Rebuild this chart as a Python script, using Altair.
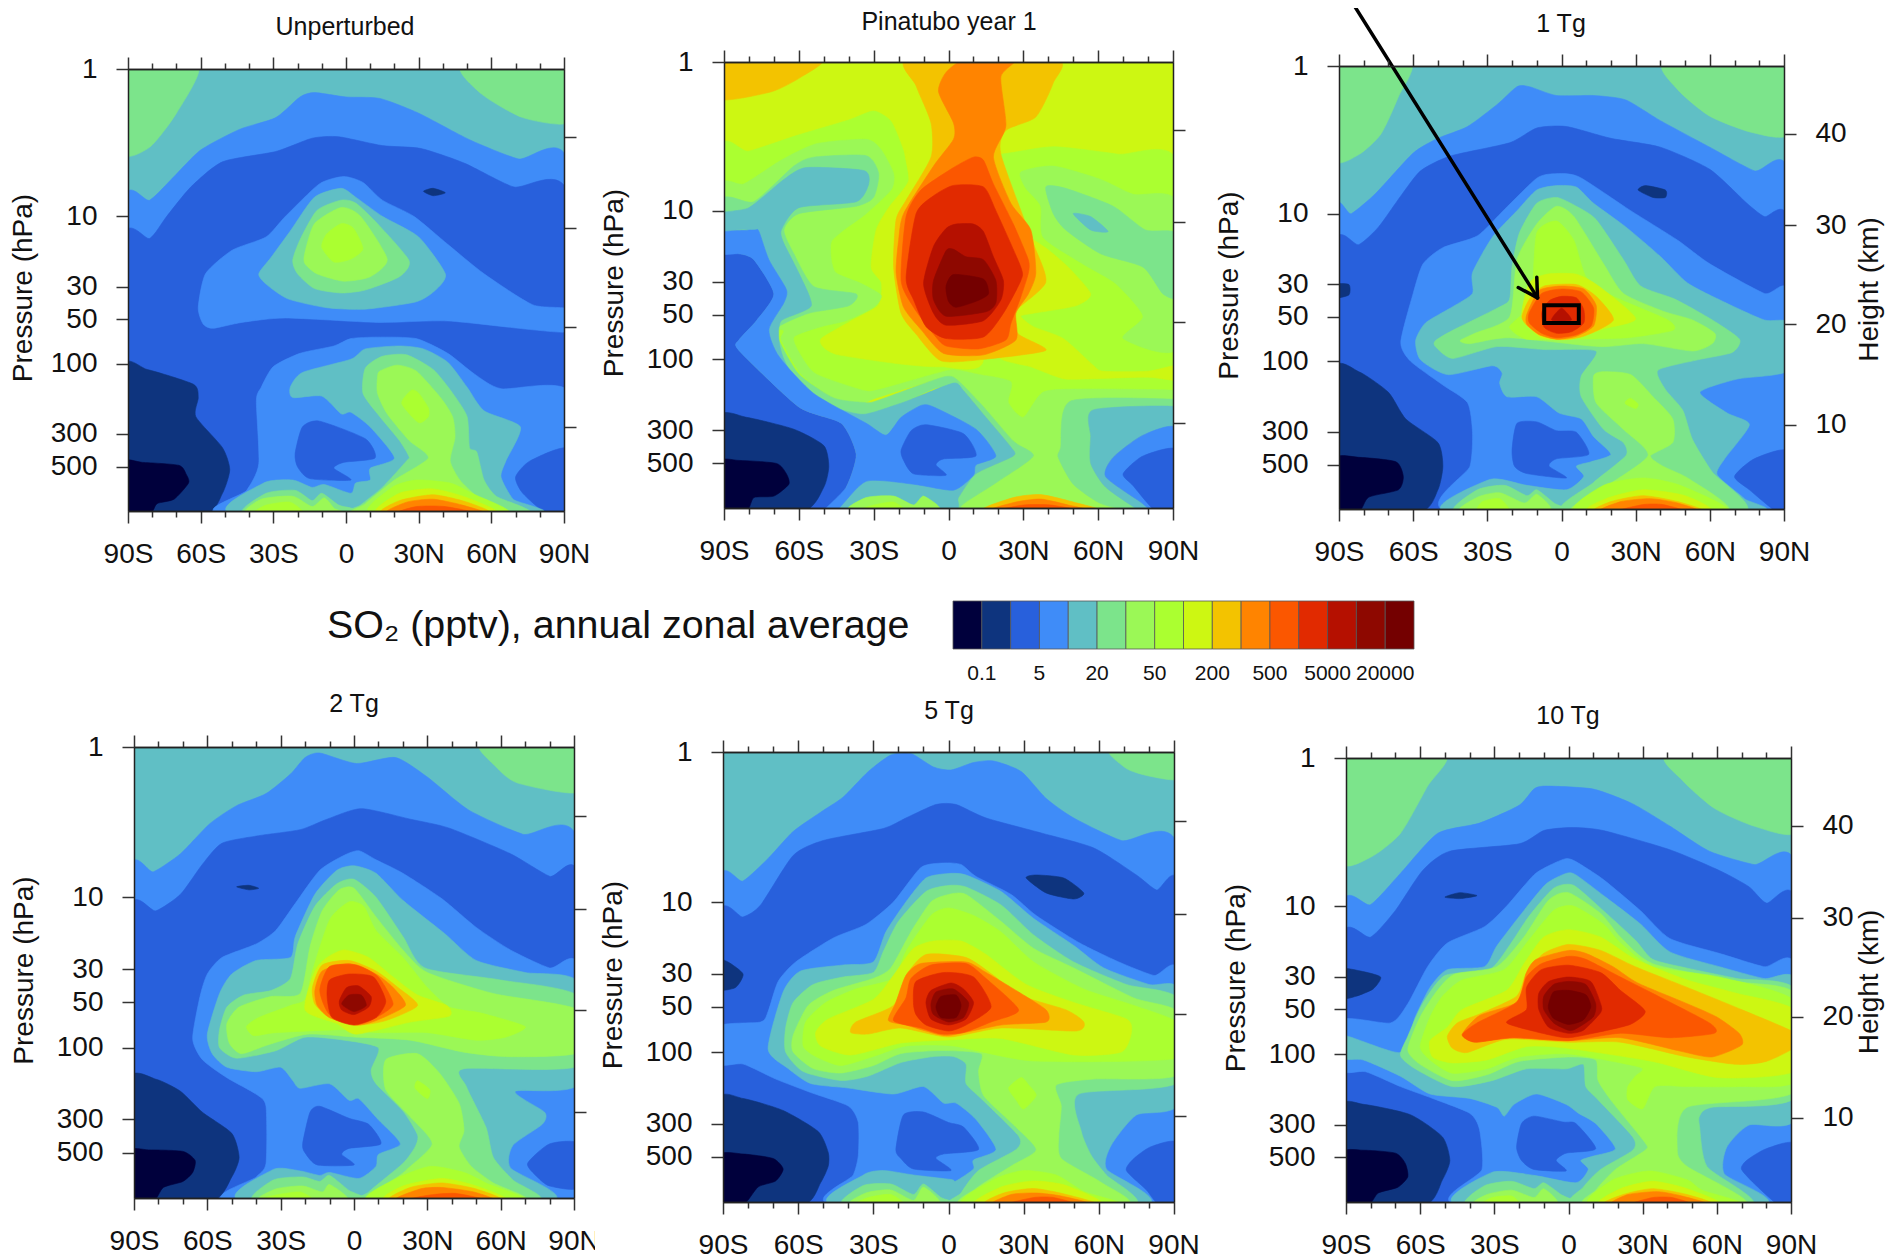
import altair as alt
import pandas as pd

W, H = 1877, 1250
COLORS = ["#00003c", "#0e347e", "#2860dc", "#3f8cf8", "#60bfc5", "#7ce48b", "#9bf856", "#abff30",
          "#cdf712", "#f3c300", "#ff8400", "#fb5700", "#e12a00", "#b51000", "#8e0800", "#740000"]
LEVEL_TICKS = [1, 3, 5, 7, 9, 11, 13, 15]
LEVEL_LABELS = ["0.1", "5", "20", "50", "200", "500", "5000", "20000"]
LAT_MAJOR = [-90, -60, -30, 0, 30, 60, 90]
LAT_MINOR = [-80, -70, -50, -40, -20, -10, 10, 20, 40, 50, 70, 80]
P_TICKS = [1, 10, 30, 50, 100, 300, 500]
HEIGHT_HPA = [2.88, 12.0, 56.2, 269]

# contour regions: (colour level, [lat, 100*log10(hPa), lat, 100*log10(hPa), ...])
UNPERTURBED = [
 (4,[-92,-2,92,-2,92,302,-92,302]),
 (5,[-92,-2,-61,-2,-70,30,-81,53,-92,57]),
 (5,[48,-2,56,17,73,33,92,36,92,-2]),
 (3,[-92,93,-81,89,-71,73,-60,55,-44,41,-29,33,-19,19,-13,16,0,19,14,20,30,30,51,48,71,61,92,66,92,302,-92,302]),
 (2,[-92,117,-81,115,-74,100,-64,80,-51,63,-29,56,-14,47,-3,46,15,52,31,54,49,64,69,80,92,87,92,302,-92,302]),
 (3,[-61,162,-58,139,-47,123,-33,114,-25,100,-11,78,-1,73,7,77,15,89,28,100,42,119,57,139,77,160,92,163,92,178,77,177,42,171,13,172,-25,169,-43,172,-55,176,-59,173]),
 (4,[-36,139,-31,128,-23,110,-13,87,-2,81,4,87,15,100,30,114,41,139,37,150,29,158,8,163,-8,162,-24,156,-33,146]),
 (5,[-22,130,-19,116,-12,96,-2,89,4,91,13,105,26,130,22,141,8,150,-2,152,-13,149,-20,139]),
 (6,[-17,125,-13,105,-2,94,6,100,17,129,10,141,-1,144,-12,139,-17,132]),
 (7,[-10,121,-8,112,-2,105,3,108,7,122,2,129,-5,131]),
 (1,[-92,203,-82,204,-63,214,-61,223,-62,236,-51,257,-48,272,-51,288,-58,302,-92,302]),
 (0,[-92,267,-84,267,-69,269,-66,275,-65,281,-71,292,-78,295,-81,302,-92,302]),
 (3,[-50,302,-41,286,-36,268,-37,225,-35,216,-30,202,-19,193,-5,188,2,183,13,182,29,183,42,193,53,207,64,217,92,219,92,302]),
 (2,[92,258,76,266,70,277,73,288,83,302,92,302]),
 (4,[-23,216,-18,206,2,197,8,190,22,188,32,190,42,199,50,216,57,232,72,243,66,266,64,277,69,292,78,302,-46,302,-34,281,-22,279,-14,284,-9,282,2,288,4,281,10,279,10,271,20,264,10,243,2,233,-2,234,-10,222,-22,223]),
 (2,[-18,243,-11,239,8,251,12,264,-1,267,-5,271,2,279,-15,278,-20,270,-21,261]),
 (5,[7,220,8,203,15,195,25,194,36,204,44,220,50,236,51,257,54,260,57,279,62,290,75,302,2,302,6,296,15,284,25,266,26,263,22,252,13,234]),
 (5,[-42,302,-33,288,-21,286,-14,293,-10,288,-3,296,2,298,7,302]),
 (6,[13,209,14,205,21,201,29,205,39,223,44,236,45,250,43,266,47,279,54,290,65,302,4,302,8,295,20,279,34,264,26,252,17,234,13,220]),
 (6,[-41,302,-35,292,-22,290,-14,297,-9,291,-5,298,-2,302]),
 (7,[23,227,27,218,30,220,34,230,34,236,30,240]),
 (7,[10,302,19,284,29,279,43,281,52,288,67,302]),
 (7,[-38,302,-33,296,-23,294,-18,302]),
 (8,[13,302,22,288,36,285,50,291,62,302]),
 (9,[15,302,22,293,36,289,50,294,59,302]),
 (10,[17,302,25,294,36,292,48,296,57,302]),
 (11,[21,302,29,297,41,297,54,302]),
 (1,[32,83,36,81,41,84,36,86]),
]
PINATUBO = [
 (8,[-92,-2,92,-2,92,302,-92,302]),
 (9,[-92,-2,-51,-2,-59,10,-71,20,-92,25]),
 (7,[-92,62,-80,60,-60,49,-40,39,-30,33,-23,40,-18,60,-14,85,-8,100,10,60,21,62,42,57,68,62,92,68,92,221,52,221,38,222,30,239,24,229,25,215,13,210,2,207,-6,210,-30,221,-50,220,-92,240]),
 (8,[-17,60,-16,80,-24,98,-29,113,-31,138,-27,148,-27,158,-29,165,-40,175,-51,186,-50,192,-44,197,-20,203,-3,205,14,200,0,100]),
 (8,[38,124,48,138,57,156,51,164,34,169,29,171,34,178,46,186,58,204,62,208,80,208,92,204,92,214,80,212,58,213,46,213,33,205,20,198,25,170,30,120]),
 (6,[29,74,42,70,61,79,74,89,92,95,92,192,70,186,78,171,67,149,54,136,38,118,37,97,31,85]),
 (5,[39,84,47,85,66,97,79,113,92,116,92,157,86,156,78,138,61,129,47,113,42,102]),
 (4,[50,102,57,104,64,114,57,113]),
 (6,[-92,85,-82,82,-67,66,-53,55,-33,52,-27,59,-22,75,-23,86,-33,102,-42,113,-47,121,-47,133,-45,142,-35,149,-27,157,-30,165,-41,174,-51,178,-62,185,-59,198,-53,210,-34,221,-27,220,-6,210,2,207,12,210,25,215,24,229,30,239,38,222,54,220,92,221,92,227,49,228,45,259,44,266,50,284,61,297,74,302,3,302,7,296,20,282,34,265,26,255,13,230,2,212,-6,214,-29,226,-34,229,-46,226,-59,210,-67,187,-67,180,-92,180]),
 (5,[-92,95,-78,94,-62,70,-54,64,-33,63,-28,75,-30,91,-37,97,-60,102,-66,113,-62,129,-54,151,-37,156,-40,164,-56,169,-68,178,-68,187,-60,210,-46,226,-34,229,-29,228,-6,214,2,212,13,230,26,255,34,265,20,282,7,296,3,302,1,302,4,293,11,277,26,265,25,259,15,239,6,221,2,218,-6,220,-20,231,-34,239,-46,235,-60,224,-70,204,-92,190]),
 (5,[49,228,92,227,92,232,58,234,57,252,57,270,63,286,77,302,74,302,61,297,50,284,44,266,45,259]),
 (5,[-42,302,-33,287,-22,287,-14,293,-10,287,-4,296,2,298,5,302]),
 (4,[-92,102,-80,98,-66,79,-57,71,-34,73,-32,82,-37,94,-60,98,-67,113,-66,122,-60,142,-55,164,-67,174,-68,187,-66,200,-60,217,-46,232,-34,237,-20,230,-15,227,2,216,6,221,15,239,25,259,26,265,11,277,4,293,1,302,-45,302,-34,278,-14,280,-10,278,2,285,6,275,15,265,9,252,2,242,-6,237,-11,236,-20,244,-25,256,-36,248,-60,228,-72,198,-76,180,-68,162,-68,153,-76,133,-80,113,-92,114]),
 (4,[58,234,92,232,92,247,78,251,66,266,63,279,77,296,82,302,77,302,63,286,57,270,57,252]),
 (2,[-92,129,-84,129,-78,133,-70,156,-77,174,-84,187,-84,194,-60,232,-43,243,-37,264,-41,286,-50,302,-92,302]),
 (3,[-92,115,-78,113,-76,114,-72,133,-65,153,-66,162,-72,180,-68,198,-54,223,-33,243,-25,251,-19,239,-11,231,-6,232,11,247,19,265,11,271,10,278,2,288,-14,284,-33,282,-45,302,-50,302,-41,286,-37,264,-43,243,-60,232,-84,194,-84,187,-77,174,-70,156,-78,133,-84,129,-92,129]),
 (1,[-92,239,-81,239,-62,247,-50,258,-48,272,-50,286,-58,302,-92,302]),
 (0,[-92,269,-84,268,-69,270,-65,277,-64,284,-70,292,-78,293,-81,302,-92,302]),
 (3,[92,247,78,251,66,266,63,279,77,296,82,302,92,302]),
 (2,[92,261,78,265,70,277,74,285,83,302,92,302]),
 (2,[-19,261,-15,248,-9,244,6,250,11,265,-2,267,-5,271,-1,278,-14,277,-18,268]),
 (9,[-16,-2,-13,16,-7,41,-7,64,-17,93,-21,106,-22,138,-19,169,-13,183,-3,201,14,200,39,194,28,183,26,169,39,148,33,118,21,62,23,46,35,37,42,14,43,-2]),
 (10,[7,-2,-1,7,-4,20,2,41,2,52,-6,70,-18,102,-20,120,-21,142,-18,165,-11,180,-2,196,14,197,27,187,27,169,32,156,35,142,33,113,25,95,18,64,23,43,21,10,27,-2]),
 (11,[10,64,14,66,18,82,26,109,32,133,32,142,29,158,25,176,23,187,12,193,-1,191,-6,183,-14,165,-19,147,-17,104,-11,86,2,71]),
 (12,[2,83,14,84,19,100,29,138,29,147,22,169,14,185,-1,186,-9,178,-14,160,-17,145,-13,102,-6,90]),
 (13,[-1,112,3,109,10,109,14,114,18,131,22,147,21,160,14,174,-1,177,-6,169,-10,149,-6,124]),
 (14,[-1,127,2,126,7,131,14,133,19,147,19,162,15,168,-1,171,-6,160,-6,147]),
 (15,[-1,151,2,143,14,146,16,156,11,161,3,165,0,161]),
 (9,[14,302,26,293,37,291,50,296,60,302]),
 (10,[17,302,27,296,37,294,48,298,56,302]),
 (11,[20,302,30,298,41,298,52,302]),
 (6,[-40,302,-33,293,-22,292,-14,298,-10,292,-4,302]),
 (7,[-36,302,-30,298,-22,296,-18,302]),
]
TG1 = [
 (4,[-92,-2,92,-2,92,302,-92,302]),
 (5,[-92,-2,-61,-2,-66,21,-73,46,-82,60,-92,63]),
 (5,[42,-2,47,16,60,34,77,45,92,46,92,-2]),
 (3,[-92,102,-85,100,-75,86,-60,59,-50,49,-38,41,-26,26,-18,14,-13,14,-2,20,13,20,26,23,40,37,60,55,78,71,92,75,92,302,-92,302]),
 (2,[-92,123,-82,121,-74,109,-65,88,-57,71,-45,61,-21,52,-10,42,2,41,20,49,40,55,60,70,75,93,82,102,92,108,92,302,-92,302]),
 (3,[92,156,82,154,60,134,47,118,28,98,7,75,-3,73,-10,76,-23,97,-34,115,-48,123,-56,134,-60,154,-65,187,-61,200,-48,216,-38,228,-36,248,-37,271,-45,302,92,302]),
 (4,[92,174,82,172,66,160,51,147,40,129,26,109,13,93,6,82,-2,81,-10,84,-18,98,-28,116,-36,140,-36,154,-44,163,-55,174,-59,186,-57,199,-46,209,-28,203,-24,208,-25,215,-22,224,-10,224,-1,235,8,239,13,251,20,263,12,268,6,271,9,278,2,287,-14,284,-29,280,-46,302,78,302,74,293,63,277,66,266,76,243,67,235,56,221,71,212,92,206]),
 (2,[-20,260,-18,242,-10,241,-2,247,6,248,11,263,-2,266,-5,271,2,279,-14,276,-19,271]),
 (5,[-51,186,-44,179,-26,164,-21,158,-20,136,-17,113,-10,93,-2,89,6,95,14,104,25,131,32,149,46,158,61,172,72,185,69,194,55,199,39,206,42,219,49,233,53,253,61,275,74,302,1,302,13,282,26,264,25,255,17,246,8,224,8,210,14,193,-7,192,-26,190,-44,198,-51,190]),
 (5,[-43,302,-34,287,-23,284,-14,291,-10,287,-3,296,2,302]),
 (6,[-41,186,-35,181,-21,170,-18,131,-10,107,-2,95,5,102,17,134,25,154,41,166,53,172,62,181,61,188,53,193,33,188,15,190,-21,184,-37,188]),
 (6,[13,210,17,207,28,209,37,224,45,239,45,255,36,264,41,271,52,280,67,302,5,302,16,287,35,264,25,246,14,228]),
 (6,[-41,302,-34,292,-25,289,-15,296,-10,290,-5,302]),
 (7,[-21,177,-16,168,-12,154,-10,113,-2,105,5,118,10,143,21,156,43,172,45,179,27,184,6,185,-14,185]),
 (7,[26,227,28,225,31,229,30,232,26,229]),
 (8,[-13,147,-6,141,6,141,15,149,30,171,17,178,4,185,-8,184,-16,170]),
 (9,[-13,158,-7,149,6,148,14,156,21,172,9,183,-2,185,-13,177,-16,170]),
 (10,[-14,168,-9,152,0,149,9,151,14,162,13,176,6,183,-2,185,-9,182,-14,175]),
 (11,[-13,167,-8,154,0,151,8,153,13,164,12,176,6,182,-2,184,-8,181,-13,174]),
 (12,[-8,167,-5,159,0,156,6,157,9,165,9,174,4,180,-2,181,-7,177]),
 (13,[-4,172,0,164,4,172]),
 (1,[-92,206,-82,207,-70,221,-63,239,-50,255,-48,271,-50,287,-57,302,-92,302]),
 (0,[-92,266,-82,265,-67,268,-64,278,-66,287,-78,292,-82,302,-92,302]),
 (1,[-92,148,-86,148,-86,155,-92,157]),
 (1,[31,84,34,81,42,84,42,89,37,89]),
 (2,[92,261,78,266,70,278,76,287,87,302,92,302]),
 (7,[6,302,17,284,33,279,48,284,67,302]),
 (8,[11,302,18,293,33,287,50,291,60,302]),
 (9,[14,302,20,295,33,291,47,295,57,302]),
 (10,[16,302,24,295,36,293,47,296,55,302]),
 (11,[22,302,33,297,41,297,50,302]),
 (7,[-34,302,-32,295,-25,293,-21,302]),
]
TG2 = [
 (4,[-92,-2,92,-2,92,302,-92,302]),
 (5,[52,-2,58,13,67,24,92,30,92,-2]),
 (3,[-92,86,-82,83,-71,71,-59,51,-48,39,-36,31,-26,18,-20,7,-14,4,1,11,17,7,30,20,47,42,69,58,92,65,92,302,-92,302]),
 (2,[-92,111,-81,109,-71,98,-62,78,-54,64,-39,59,-22,55,-11,48,3,41,23,48,39,54,64,71,80,86,92,89,92,302,-92,302]),
 (3,[92,148,80,147,64,135,50,120,36,101,20,84,9,75,2,69,-4,72,-14,82,-24,104,-32,122,-40,131,-54,140,-60,151,-63,166,-66,194,-62,208,-52,220,-40,231,-36,239,-36,277,-40,286,-50,302,92,302]),
 (1,[-92,221,-81,221,-71,229,-62,243,-50,257,-47,273,-50,286,-58,302,-92,302]),
 (0,[-92,269,-84,268,-70,269,-65,275,-66,283,-70,289,-78,293,-82,302,-92,302]),
 (1,[-48,93,-43,92,-39,94,-43,95]),
 (4,[92,157,70,150,50,142,37,124,20,102,9,84,0,79,-7,82,-16,98,-24,126,-26,140,-40,142,-50,151,-55,164,-60,191,-58,204,-52,213,-40,216,-30,213,-25,222,-22,227,-10,224,-2,235,2,234,10,248,19,264,10,271,9,279,2,287,-10,283,-14,285,-22,282,-33,281,-45,302,80,302,64,280,65,265,77,251,78,243,66,229,92,224]),
 (2,[92,264,80,264,71,277,75,286,80,292,92,293]),
 (2,[-21,264,-18,243,-14,239,-2,247,6,251,11,264,-2,267,-5,271,0,278,-15,278,-20,270]),
 (5,[92,166,60,155,29,147,20,126,9,100,0,88,-7,91,-16,106,-23,131,-26,154,-34,162,-45,165,-52,173,-55,188,-55,200,-48,207,-32,202,-20,193,-4,195,10,200,7,215,9,224,20,242,26,258,25,266,20,277,6,296,4,302,75,302,65,288,57,273,54,253,46,226,45,214,92,212]),
 (5,[-41,302,-33,288,-21,286,-14,289,-10,285,-2,295,5,302]),
 (6,[92,175,57,164,30,150,20,135,9,113,0,94,-6,95,-13,109,-18,133,-22,164,-34,166,-47,173,-52,184,-51,197,-46,204,-35,198,-19,191,1,193,23,195,45,203,64,206,92,203]),
 (6,[13,208,26,204,35,217,43,237,45,255,43,266,48,279,57,290,70,302,9,302,21,282,32,264,23,246,13,228]),
 (6,[-39,302,-32,294,-21,292,-13,296,-10,291,-3,302]),
 (7,[-44,186,-39,180,-26,172,-20,168,-17,149,-10,115,-2,103,4,106,9,122,20,140,30,160,39,173,52,177,70,186,62,193,50,195,30,190,10,190,-4,188,-32,190,-41,192]),
 (7,[25,227,26,222,31,228,30,234]),
 (8,[-20,175,-16,149,-11,140,-4,135,6,140,16,153,26,165,38,172,39,179,23,183,1,191,-7,184]),
 (9,[-17,160,-13,145,-2,142,9,149,18,160,26,172,13,182,1,185,-10,180,-16,171]),
 (10,[-16,162,-13,149,-2,144,9,151,16,160,21,172,9,182,1,185,-10,180,-15,172]),
 (11,[-14,162,-10,146,1,145,10,153,16,171,9,180,1,184,-10,178]),
 (12,[-11,166,-10,155,-2,151,8,153,13,169,9,180,0,185,-9,180]),
 (13,[-6,169,-3,160,2,159,7,166,6,173,0,178,-5,175]),
 (14,[-5,171,-2,165,3,165,5,172,0,176]),
 (7,[6,302,16,288,31,279,45,283,54,290,69,302]),
 (8,[13,302,20,292,36,287,50,292,62,302]),
 (9,[15,302,23,293,36,290,50,294,60,302]),
 (10,[17,302,27,294,36,293,49,296,57,302]),
 (11,[21,302,31,298,42,297,54,302]),
 (7,[-40,302,-32,298,-22,296,-17,302]),
]
TG5 = [
 (4,[-92,-2,92,-2,92,302,-92,302]),
 (5,[64,-2,71,11,80,16,92,18,92,-2]),
 (3,[-92,90,-82,86,-72,71,-62,53,-50,39,-42,30,-32,13,-23,2,-15,1,-6,10,1,12,10,7,18,6,29,13,39,31,50,44,69,59,92,66,92,302,-92,302]),
 (2,[-92,112,-82,110,-75,102,-62,69,-50,59,-26,51,-17,44,-5,35,3,35,15,44,37,54,58,64,75,82,83,92,92,92,92,302,-92,302]),
 (3,[92,149,82,149,68,140,52,127,35,109,25,95,11,83,5,75,-2,74,-11,77,-22,100,-33,115,-46,124,-61,140,-68,153,-72,173,-75,180,-92,183,-92,208,-82,208,-69,218,-55,227,-40,236,-36,247,-36,269,-38,282,-45,302,92,302]),
 (1,[-92,139,-88,140,-82,148,-85,157,-92,158]),
 (1,[-92,232,-82,231,-66,239,-52,253,-48,267,-48,276,-51,287,-58,302,-92,302]),
 (0,[-92,269,-82,268,-70,271,-66,278,-69,286,-76,290,-82,302,-92,302]),
 (1,[31,84,35,82,46,84,54,94,50,98,39,94]),
 (2,[92,261,81,263,74,271,71,279,79,292,84,302,92,302]),
 (4,[92,159,80,155,62,144,50,129,34,111,21,93,7,82,0,81,-9,84,-17,100,-25,120,-30,140,-42,142,-59,146,-66,160,-72,198,-64,211,-55,221,-40,224,-22,228,-10,223,-2,234,3,234,11,245,19,265,10,272,10,278,3,286,1,285,-14,282,-26,279,-34,282,-45,302,78,302,63,278,65,262,75,242,92,234]),
 (2,[-21,265,-18,242,-10,240,0,247,6,250,12,265,-2,268,-5,271,1,279,-14,278,-19,271]),
 (5,[92,165,71,155,50,140,34,122,21,102,7,90,0,89,-9,93,-20,113,-26,133,-30,147,-42,150,-54,155,-62,167,-65,184,-65,200,-58,213,-43,219,-32,216,-19,207,-6,203,2,203,7,208,7,221,13,231,28,256,27,265,12,279,5,294,3,302,74,302,63,282,57,269,53,253,52,228,92,220]),
 (5,[-42,302,-34,289,-23,288,-14,295,-10,288,-3,297,3,302]),
 (6,[92,174,74,164,50,144,34,131,21,113,7,95,0,95,-7,100,-15,120,-23,144,-30,151,-46,159,-56,169,-62,189,-62,200,-54,211,-43,214,-30,209,-19,201,-3,199,13,201,12,213,14,229,25,247,35,265,25,276,11,291,6,302,71,302,61,287,45,271,44,256,45,236,43,222,58,218,92,215]),
 (6,[-39,302,-33,294,-23,292,-14,299,-10,290,-4,302]),
 (7,[92,181,74,169,54,158,34,140,21,120,10,109,0,104,-7,109,-17,133,-22,151,-37,158,-49,167,-57,180,-58,196,-53,203,-43,209,-30,203,-17,196,2,196,34,206,92,204]),
 (7,[24,224,29,217,32,222,35,229,30,238,27,232]),
 (8,[-53,187,-48,178,-30,165,-22,149,-14,131,-6,126,5,126,15,135,31,155,50,167,71,178,73,187,69,200,50,202,21,191,0,192,-19,194,-39,202,-51,196]),
 (9,[-39,187,-37,180,-22,169,-17,149,-9,135,7,137,18,149,28,162,47,172,54,180,51,186,21,184,0,190,-19,184,-32,188]),
 (10,[-24,179,-21,167,-17,149,-11,141,7,140,15,147,28,160,39,172,39,180,21,182,0,189,-9,186,-17,182]),
 (11,[-22,179,-17,164,-15,151,-7,142,7,141,15,151,28,172,17,180,6,187,-3,188,-11,184]),
 (12,[-14,167,-13,153,-2,147,10,150,17,170,7,182,0,186,-9,182,-13,175]),
 (13,[-9,167,-7,159,1,154,6,158,10,167,7,178,0,182,-7,178]),
 (14,[-7,168,-5,160,2,158,8,167,6,177,0,180,-6,175]),
 (15,[-5,170,-3,163,3,162,5,169,3,177,-3,177]),
 (7,[6,302,18,285,30,279,43,282,54,293,68,302]),
 (8,[11,302,21,290,34,286,47,289,61,302]),
 (9,[15,302,22,294,34,291,47,295,59,302]),
 (10,[18,302,25,295,35,294,45,296,57,302]),
 (11,[23,302,34,297,42,297,51,302]),
 (7,[-37,302,-32,297,-23,295,-18,302]),
]
TG10 = [
 (4,[-92,-2,92,-2,92,302,-92,302]),
 (5,[-50,-2,-57,19,-68,51,-80,67,-92,70,-92,-2]),
 (5,[40,-2,46,15,59,34,75,46,92,50,92,-2]),
 (3,[-92,103,-80,99,-68,78,-53,51,-36,44,-20,32,-14,21,-9,19,10,21,26,31,41,46,57,63,75,72,92,75,92,302,-92,302]),
 (2,[-92,123,-80,121,-70,103,-59,76,-48,63,-20,58,-10,49,1,47,14,49,41,62,61,76,73,87,80,98,92,99,92,302,-92,302]),
 (3,[92,143,79,141,61,132,41,122,29,103,14,82,3,70,-1,68,-7,72,-14,79,-25,100,-34,114,-49,125,-57,141,-65,166,-72,179,-92,177,-92,211,-82,212,-68,222,-55,230,-40,240,-36,251,-35,278,-44,302,92,302]),
 (1,[-92,143,-84,144,-76,148,-79,156,-86,161,-92,162]),
 (1,[-92,236,-83,234,-64,241,-51,256,-48,272,-51,285,-58,302,-92,302]),
 (0,[-92,267,-83,265,-70,267,-66,274,-65,283,-69,290,-77,294,-81,302,-92,302]),
 (1,[-50,94,-44,91,-37,93,-44,95]),
 (2,[92,261,80,264,72,272,70,278,76,289,85,302,92,302]),
 (4,[92,151,79,149,61,141,41,131,29,112,15,94,3,79,-1,78,-9,85,-18,103,-29,127,-34,141,-49,143,-56,155,-62,175,-68,199,-92,187,-92,203,-83,204,-68,215,-56,227,-40,230,-29,236,-26,242,-22,234,-13,227,-1,234,4,240,11,247,19,264,10,269,5,272,8,278,3,287,-14,282,-31,280,-44,302,78,302,63,281,64,263,73,248,92,243]),
 (2,[-21,263,-19,247,-14,242,-2,246,3,247,11,264,-1,267,-5,272,-1,279,-14,278,-19,272]),
 (5,[92,157,68,149,48,142,34,136,27,123,14,103,2,86,-6,88,-16,107,-24,127,-32,143,-50,147,-59,166,-65,188,-68,201,-62,210,-47,222,-31,218,-17,210,-1,210,6,207,7,222,12,231,26,256,26,265,13,278,6,290,3,302,74,302,56,276,53,249,53,242,58,236,92,229]),
 (6,[92,160,68,151,34,139,21,121,13,105,0,91,-8,96,-18,121,-29,141,-46,146,-53,157,-60,175,-65,197,-60,207,-47,218,-33,214,-20,205,0,202,11,204,12,218,18,233,31,260,31,265,19,278,11,292,8,302,72,302,48,276,44,265,48,236,92,225]),
 (7,[92,165,61,148,34,141,21,125,14,112,2,100,-6,103,-16,123,-26,143,-43,150,-51,161,-56,175,-60,195,-56,204,-47,213,-33,210,-20,202,0,200,29,209,27,215,24,222,24,231,30,237,35,222,48,222,69,222,92,218]),
 (8,[92,171,68,159,48,150,27,136,13,121,0,116,-10,121,-18,139,-25,157,-43,170,-49,182,-56,191,-55,202,-47,206,-33,204,-17,195,-1,196,34,205,61,216,92,211]),
 (9,[92,186,70,170,48,155,27,141,13,130,0,126,-10,132,-17,145,-21,161,-36,173,-45,179,-49,188,-47,196,-41,199,-25,190,0,192,21,192,48,202,68,207,80,205,92,195]),
 (10,[69,186,60,175,48,166,28,152,18,141,7,132,0,130,-13,136,-17,145,-21,165,-36,174,-43,187,-37,192,-24,189,0,191,21,189,45,198,58,202,70,194]),
 (11,[59,186,57,179,34,159,21,148,7,136,0,134,-11,139,-17,148,-21,165,-37,179,-43,187,-38,192,-22,189,0,191,21,186,41,189]),
 (12,[31,171,21,157,13,145,0,140,-11,143,-17,155,-17,170,-25,179,-8,187,0,189,10,186,25,180]),
 (13,[-12,159,-8,151,0,148,9,151,13,166,13,172,6,184,0,186,-8,182,-12,170]),
 (14,[-10,161,-6,153,0,151,7,153,11,166,10,175,3,183,0,184,-6,179,-10,170]),
 (15,[-8,166,-6,158,0,157,7,160,9,168,6,177,0,180,-6,176,-8,170]),
 (7,[9,302,18,285,33,279,48,285,54,292,70,302]),
 (8,[13,302,21,291,34,286,48,291,61,302]),
 (9,[15,302,22,295,34,291,48,295,58,302]),
 (10,[18,302,24,295,36,293,46,296,56,302]),
 (11,[25,302,34,297,42,297,50,302]),
 (5,[-41,302,-34,289,-23,286,-14,291,-10,287,-3,295,3,302]),
 (6,[-38,302,-33,295,-23,292,-14,297,-10,291,-5,302]),
 (7,[-35,302,-31,297,-23,296,-20,302]),
]
ARROW_LINES = [(-85, -44, -9.7, 157), (-10, 143, -9.7, 157), (-17.5, 150, -9.7, 157)]
BOX = (-7, 7, 162, 174)

# name, contours, plot left/right/top/bottom in the page, right labels, title x/y, x where the 90N label is cut
PANELS = [
 ("Unperturbed", UNPERTURBED, 128, 564, 69, 511, False, 345, 27, None),
 ("Pinatubo year 1", PINATUBO, 724, 1173, 62, 508, False, 949, 22, None),
 ("1 Tg", TG1, 1339, 1784, 66, 509, True, 1561, 24, None),
 ("2 Tg", TG2, 134, 574, 747, 1198, False, 354, 704, 595),
 ("5 Tg", TG5, 723, 1174, 752, 1202, False, 949, 711, 1199),
 ("10 Tg", TG10, 1346, 1791, 758, 1202, True, 1568, 716, None),
]
FONT = "Liberation Sans"
one = pd.DataFrame({"v": [1], "lat": [0], "p": [10]})
layers = []
axis_base = dict(title=None, grid=False, zindex=1, domainColor="#222222", domainWidth=1.5,
                 tickColor="#333333", tickWidth=1.5, labelFont=FONT, labelColor="#111111",
                 labelFontSize=28, labelOverlap=False, labelFlush=False, labelBound=False)

for name, shapes, x0, x1, y0, y1, right, tx, ty, cut in PANELS:
    sx = alt.Scale(domain=[-90, 90], range=[x0 - 8, x1 - 8], nice=False, zero=False)
    sy = alt.Scale(type="log", domain=[1, 1000], range=[y0 - 8, y1 - 8], nice=False)
    rows = []
    for sid, (lvl, pts) in enumerate(shapes):
        for i in range(0, len(pts), 2):
            rows.append({"sid": sid, "i": i, "lvl": lvl, "lat": pts[i], "p": 10 ** (pts[i + 1] / 100)})
    df = pd.DataFrame(rows)
    cs = alt.Scale(domain=list(range(16)), range=COLORS)
    layers.append(alt.Chart(df).mark_line(filled=True, interpolate="cardinal-closed", tension=0.35, strokeWidth=0.6).encode(
        x=alt.X("lat:Q", scale=sx, axis=None), y=alt.Y("p:Q", scale=sy, axis=None),
        detail="sid:N", order="i:Q",
        fill=alt.Fill("lvl:O", scale=cs, legend=None),
        stroke=alt.Stroke("lvl:O", scale=cs, legend=None)))
    mask = pd.DataFrame({
        "a": [-115, 90, -115, -115], "b": [-90, 115, 115, 115],
        "c": [0.3, 0.3, 0.3, 1000], "d": [3000, 3000, 1, 3000]})
    layers.append(alt.Chart(mask).mark_rect(fill="white").encode(
        x=alt.X("a:Q", scale=sx, axis=None), x2="b:Q",
        y=alt.Y("c:Q", scale=sy, axis=None), y2="d:Q"))
    lat_expr = "datum.value<0 ? abs(datum.value)+'S' : datum.value>0 ? datum.value+'N' : '0'"
    if cut:
        lat_expr = "datum.value==90 ? '' : " + lat_expr
        layers.append(alt.Chart(pd.DataFrame({"t": ["90N"]})).mark_text(font=FONT, fontSize=28, color="#111111").encode(
            text="t:N", x=alt.value(x1 - 8), y=alt.value(y1 + 44 - 8)))
        layers.append(alt.Chart(one).mark_rect(fill="white").encode(
            x=alt.value(cut - 8), x2=alt.value(cut + 24), y=alt.value(y1 + 26 - 8), y2=alt.value(y1 + 62 - 8)))
    for orient, off, vals, ts, labels in [
        ("bottom", y1 - 8 - H, LAT_MAJOR, 12, True), ("bottom", y1 - 8 - H, LAT_MINOR, 6, False),
        ("top", -(y0 - 8), LAT_MAJOR, 12, False), ("top", -(y0 - 8), LAT_MINOR, 6, False)]:
        ax = alt.Axis(orient=orient, offset=off, values=vals, tickSize=ts, labels=labels,
                      labelPadding=17, labelExpr=lat_expr, **axis_base)
        layers.append(alt.Chart(one).mark_point(opacity=0).encode(x=alt.X("lat:Q", scale=sx, axis=ax)))
    ax = alt.Axis(orient="left", offset=-(x0 - 8), values=P_TICKS, tickSize=12, labelPadding=19, format="d", **axis_base)
    layers.append(alt.Chart(one).mark_point(opacity=0).encode(y=alt.Y("p:Q", scale=sy, axis=ax)))
    kw = dict(labelExpr="datum.value>200?'10':datum.value>50?'20':datum.value>10?'30':'40'") if right else {}
    ax = alt.Axis(orient="right", offset=x1 - 8 - W, values=HEIGHT_HPA, tickSize=12, labelPadding=19,
                  labels=right, **kw, **axis_base)
    layers.append(alt.Chart(one).mark_point(opacity=0).encode(y=alt.Y("p:Q", scale=sy, axis=ax)))
    texts = pd.DataFrame({"t": [name]})
    layers.append(alt.Chart(texts).mark_text(font=FONT, fontSize=25, color="#111111").encode(
        text="t:N", x=alt.value(tx - 8), y=alt.value(ty - 8)))
    layers.append(alt.Chart(pd.DataFrame({"t": ["Pressure (hPa)"]})).mark_text(font=FONT, fontSize=28, angle=270, color="#111111").encode(
        text="t:N", x=alt.value(max(x0 - 109, 24) - 8), y=alt.value((y0 + y1) / 2 - 2 - 8)))
    if right:
        layers.append(alt.Chart(pd.DataFrame({"t": ["Height (km)"]})).mark_text(font=FONT, fontSize=28, angle=270, color="#111111").encode(
            text="t:N", x=alt.value(min(x1 + 86, 1870) - 8), y=alt.value((y0 + y1) / 2 + 2 - 8)))
    if name == "1 Tg":
        ar = pd.DataFrame([{"a": a, "p1": 10 ** (b / 100), "c": c, "p2": 10 ** (d / 100)} for a, b, c, d in ARROW_LINES])
        layers.append(alt.Chart(ar).mark_rule(color="black", strokeWidth=3.5, strokeCap="round").encode(
            x=alt.X("a:Q", scale=sx, axis=None), x2="c:Q",
            y=alt.Y("p1:Q", scale=sy, axis=None), y2="p2:Q"))
        bx = pd.DataFrame({"a": [BOX[0]], "b": [BOX[1]], "c": [10 ** (BOX[2] / 100)], "d": [10 ** (BOX[3] / 100)]})
        layers.append(alt.Chart(bx).mark_rect(fill=None, stroke="black", strokeWidth=4).encode(
            x=alt.X("a:Q", scale=sx, axis=None), x2="b:Q",
            y=alt.Y("c:Q", scale=sy, axis=None), y2="d:Q"))

# colour bar
bar = pd.DataFrame({"a": list(range(16)), "b": [i + 1 for i in range(16)], "lvl": list(range(16))})
lsx = alt.Scale(domain=[0, 16], range=[945, 1406], nice=False, zero=False)
layers.append(alt.Chart(bar).mark_rect(stroke="#555555", strokeWidth=0.8).encode(
    x=alt.X("a:Q", scale=lsx, axis=None), x2="b:Q", y=alt.value(593), y2=alt.value(641),
    fill=alt.Fill("lvl:O", scale=alt.Scale(domain=list(range(16)), range=COLORS), legend=None)))
layers.append(alt.Chart(pd.DataFrame({"k": LEVEL_TICKS, "t": LEVEL_LABELS})).mark_text(font=FONT, fontSize=21, color="#111111").encode(
    x=alt.X("k:Q", scale=lsx, axis=None), y=alt.value(666), text="t:N"))
layers.append(alt.Chart(pd.DataFrame({"t": ["SO\u2082 (pptv), annual zonal average"]})).mark_text(font=FONT, fontSize=39.4, align="left", color="#111111").encode(
    x=alt.value(319), y=alt.value(618), text="t:N"))

chart = alt.layer(*layers).resolve_scale(x="independent", y="independent").properties(
    width=W, height=H, padding=0, autosize=alt.AutoSizeParams(type="none"),
    background="white").configure_view(stroke=None)
chart.save("out.html", embed_options={"renderer": "svg", "actions": False})
